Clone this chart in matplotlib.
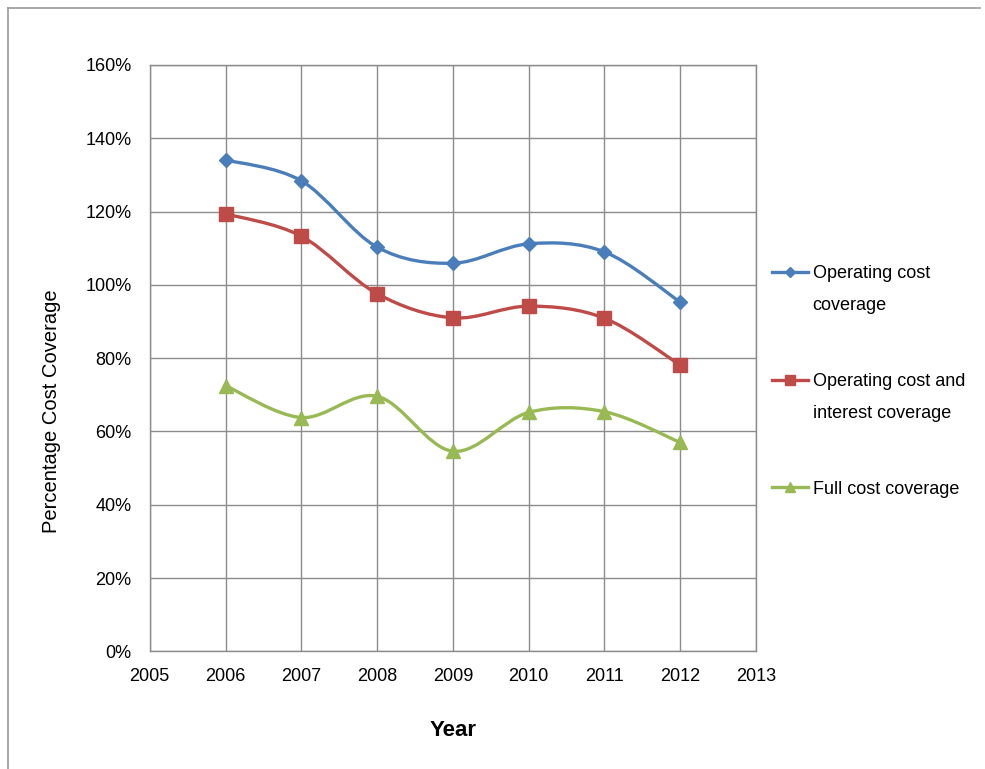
import matplotlib
matplotlib.use("Agg")
import matplotlib.pyplot as plt
from matplotlib.path import Path
from matplotlib.patches import PathPatch
from matplotlib.lines import Line2D
from matplotlib.ticker import PercentFormatter
import numpy as np

plt.rcParams["font.family"] = ["Liberation Sans", "DejaVu Sans"]

years = [2006, 2007, 2008, 2009, 2010, 2011, 2012]
operating = [134.1, 128.4, 110.3, 105.9, 111.2, 109.0, 95.3]
operating_interest = [119.4, 113.3, 97.6, 91.0, 94.2, 90.9, 78.1]
full_cost = [72.5, 63.8, 69.6, 54.6, 65.2, 65.4, 57.0]

labels = ["Operating cost\ncoverage",
          "Operating cost and\ninterest coverage",
          "Full cost coverage"]
colors = ["#4a7ebb", "#be4b48", "#98b954"]
markers = ["D", "s", "^"]
msizes = [7.5, 10, 10]


def smooth_path(x, y):
    # catmull-rom style bezier segments, like spreadsheet "smoothed line"
    pts = np.column_stack([x, y]).astype(float)
    n = len(pts)
    verts = [pts[0]]
    codes = [Path.MOVETO]
    for i in range(n - 1):
        p0 = pts[max(i - 1, 0)]
        p1 = pts[i]
        p2 = pts[i + 1]
        p3 = pts[min(i + 2, n - 1)]
        c1 = p1 + (p2 - p0) / 6.0
        c2 = p2 - (p3 - p1) / 6.0
        verts += [c1, c2, p2]
        codes += [Path.CURVE4] * 3
    return Path(verts, codes)


fig = plt.figure(figsize=(9.85, 7.69), dpi=100)
ax = fig.add_axes([0.152, 0.153, 0.6155, 0.7625])

for vals, c, m, ms in zip([operating, operating_interest, full_cost],
                          colors, markers, msizes):
    ax.add_patch(PathPatch(smooth_path(years, vals), facecolor="none",
                           edgecolor=c, lw=2.4, zorder=3))
    ax.plot(years, vals, ls="none", marker=m, ms=ms, color=c, zorder=4)

# legend: handle sits level with the first line of each label
leg_y = [0.6463, 0.5059, 0.3667]
line_gap = 0.0416
for y, lab, c, m, ms in zip(leg_y, labels, colors, markers, msizes):
    fig.add_artist(Line2D([0.784, 0.820], [y, y], color=c, lw=2.4,
                          transform=fig.transFigure))
    fig.add_artist(Line2D([0.802], [y], color=c, marker=m, ms=ms * 0.7,
                          transform=fig.transFigure))
    for k, part in enumerate(lab.split("\n")):
        fig.text(0.825, y - k * line_gap, part, fontsize=13,
                 va="center_baseline", ha="left")

ax.set_xlim(2005, 2013)
ax.set_ylim(0, 160)
ax.set_xticks(range(2005, 2014))
ax.set_yticks(range(0, 161, 20))
ax.yaxis.set_major_formatter(PercentFormatter(decimals=0))
ax.grid(True, color="#8c8c8c", lw=1)
ax.set_axisbelow(True)
ax.tick_params(length=0, labelsize=13)
ax.tick_params(axis="x", pad=12)
ax.tick_params(axis="y", pad=13)
for s in ax.spines.values():
    s.set_color("#8c8c8c")
    s.set_linewidth(1)

ax.set_xlabel("Year", fontsize=16, fontweight="bold", labelpad=25)
ax.set_ylabel("Percentage Cost Coverage", fontsize=14.5)
ax.yaxis.set_label_coords(-0.147, 0.41)

# thin outer frame along the left and top edges
fig.add_artist(Line2D([0.008, 0.008], [0, 0.989], color="#999999", lw=1.2,
                      transform=fig.transFigure))
fig.add_artist(Line2D([0.008, 0.995], [0.989, 0.989], color="#999999", lw=1.2,
                      transform=fig.transFigure))

fig.savefig("out.png", dpi=100)
